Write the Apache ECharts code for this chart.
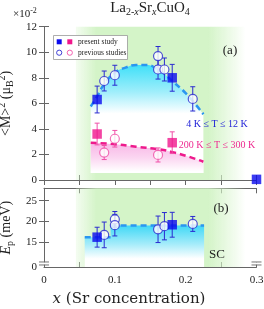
<!DOCTYPE html>
<html><head><meta charset="utf-8">
<script src="https://cdn.jsdelivr.net/npm/echarts@6/dist/echarts.min.js"></script>
<style>html,body{margin:0;padding:0;background:#fff}#c{width:264px;height:309px}</style>
</head><body><div id="c"></div>
<script>
// ---- Panel (a): <M>^2 (x10^-2 muB^2) ----
const lowPresentX = [0.075, 0.181];
const lowPresentY = [6.3, 8.0];
const lowPresentErr = [1.05, 1.05];
const lowPrevX = [0.085, 0.1, 0.161, 0.161, 0.17, 0.21];
const lowPrevY = [7.75, 8.2, 9.7, 8.65, 8.65, 6.35];
const lowPrevErr = [0.78, 0.78, 0.75, 0.75, 0.9, 0.95];
const highPresentX = [0.075, 0.181];
const highPresentY = [3.6, 2.92];
const highPresentErr = [0.85, 0.85];
const highPrevX = [0.085, 0.1, 0.161];
const highPrevY = [2.15, 3.23, 1.96];
const highPrevErr = [0.55, 0.65, 0.55];
const cornerPoint = [[0.3, 0.05]];
const lowCurveX = [0.066, 0.075, 0.085, 0.1, 0.115, 0.13, 0.145, 0.158, 0.17, 0.182, 0.2, 0.225];
const lowCurveY = [5.75, 6.55, 7.5, 8.4, 8.8, 9.0, 9.0, 8.75, 8.3, 7.7, 6.8, 5.15];
const highCurveX = [0.066, 0.1, 0.13, 0.163, 0.18, 0.2, 0.225];
const highCurveY = [2.92, 2.8, 2.6, 2.4, 2.2, 1.9, 1.43];
// ---- Panel (b): Ep (meV) ----
const epPresentX = [0.075, 0.181];
const epPresentY = [16.2, 19.2];
const epPresentErr = [2.4, 3.0];
const epPrevX = [0.085, 0.1, 0.1, 0.161, 0.17, 0.21];
const epPrevY = [16.75, 20.5, 19.1, 18.1, 18.85, 19.4];
const epPrevErr = [3.1, 1.9, 2.6, 3.2, 3.3, 1.8];
const epStepLowX = [0.0575, 0.094];
const epStepLowY = [16.2, 16.2];
const epStepHighX = [0.094, 0.226];
const epStepHighY = [19.0, 19.0];
// tick labels
const xTickLabels = ['0', '0.1', '0.2', '0.3'];
const yTicksA = [0, 2, 4, 6, 8, 10, 12];
const yLabelsB = [9, 15, 20, 25];
const yLabelsBText = ['0', '15', '20', '25'];

const SERIF = '"Liberation Serif","DejaVu Serif",serif';
const zip = (xs, ys) => xs.map((x, i) => [x, ys[i]]);
const zip3 = (xs, ys, es) => xs.map((x, i) => [x, ys[i], es[i]]);
const G = echarts.graphic.LinearGradient;

const chart = echarts.init(document.getElementById('c'), null, {renderer: 'canvas'});

const axisLine = {show: true, lineStyle: {color: '#666', width: 1}};
function xAx(grid, pos, labels) {
  return {type: 'value', gridIndex: grid, position: pos, min: 0, max: 0.3, interval: 0.05,
    axisLine: axisLine, splitLine: {show: false},
    axisTick: {show: true, inside: true, length: 5, lineStyle: {color: '#666'}},
    axisLabel: labels ? {show: true, margin: 8, fontFamily: SERIF, fontSize: 11, color: '#222',
      formatter: v => { const k = Math.round(v * 10); return Math.abs(v * 10 - k) < 1e-6 ? xTickLabels[k] : ''; }} : {show: false}
  };
}
function errRender(color) {
  return function (params, api) {
    const x = api.value(0), y = api.value(1), e = api.value(2);
    const t = api.coord([x, y + e]), b = api.coord([x, y - e]);
    const w = 2.5, s = {stroke: color, lineWidth: 1};
    return {type: 'group', children: [
      {type: 'line', shape: {x1: t[0], y1: t[1], x2: b[0], y2: b[1]}, style: s},
      {type: 'line', shape: {x1: t[0] - w, y1: t[1], x2: t[0] + w, y2: t[1]}, style: s},
      {type: 'line', shape: {x1: b[0] - w, y1: b[1], x2: b[0] + w, y2: b[1]}, style: s}
    ]};
  };
}
const greenArea = {silent: true, data: [[{xAxis: 0.045}, {xAxis: 0.285}]],
  itemStyle: {color: new G(0, 0, 1, 0, [
    {offset: 0, color: 'rgba(212,244,200,0.25)'}, {offset: 0.12, color: 'rgba(212,244,200,1)'},
    {offset: 0.78, color: 'rgba(212,244,200,1)'}, {offset: 1, color: 'rgba(212,244,200,0)'}])}};

const BLUE = '#0a0aee', BLUEL = '#2a2ad0', PINK = '#f0168c', PINKL = '#f050a8', DASHB = '#2a96f0', DASHP = '#ee1a8c';

const option = {
  animation: false,
  grid: [
    {left: 44, right: 7.5, top: 26.7, height: 153.3, containLabel: false, outerBoundsMode: 'none'},
    {left: 44, right: 7.5, top: 188.3, height: 78.7, containLabel: false, outerBoundsMode: 'none'}
  ],
  xAxis: [
    xAx(0, 'bottom', false), xAx(0, 'top', false),
    xAx(1, 'bottom', true),
    xAx(1, 'top', false)
  ],
  yAxis: [
    {type: 'value', gridIndex: 0, position: 'left', min: 0, max: 12, interval: 2,
      axisLine: axisLine, splitLine: {show: false},
      axisTick: {show: true, inside: true, length: 5, lineStyle: {color: '#666'}},
      axisLabel: {margin: 7, fontFamily: SERIF, fontSize: 11, color: '#222', customValues: yTicksA},
      name: '<M>{sup|2} (μ{sub|B}{sup|2})', nameLocation: 'middle', nameGap: 24,
      nameTextStyle: {fontFamily: SERIF, fontSize: 14, color: '#222', lineHeight: 18,
        rich: {sup: {fontSize: 10, verticalAlign: 'top', lineHeight: 18, fontFamily: SERIF, color: '#222'},
               sub: {fontSize: 10, verticalAlign: 'bottom', lineHeight: 18, fontFamily: SERIF, color: '#222'}}}},
    {type: 'value', gridIndex: 0, position: 'right', min: 0, max: 12, interval: 2,
      axisLine: axisLine, splitLine: {show: false}, axisLabel: {show: false},
      axisTick: {show: true, inside: true, length: 5, lineStyle: {color: '#666'}}},
    {type: 'value', gridIndex: 1, position: 'left', min: 9, max: 28,
      axisLine: axisLine, splitLine: {show: false},
      axisTick: {show: true, inside: true, length: 5, lineStyle: {color: '#666'}, customValues: [15, 20, 25]},
      axisLabel: {margin: 7, fontFamily: SERIF, fontSize: 11, color: '#222', customValues: yLabelsB,
        formatter: v => yLabelsBText[yLabelsB.indexOf(Math.round(v))] || ''},
      name: '{i|E}{sub|p} (meV)', nameLocation: 'middle', nameGap: 23,
      nameTextStyle: {fontFamily: SERIF, fontSize: 14, color: '#222', lineHeight: 18,
        rich: {i: {fontStyle: 'italic', fontFamily: SERIF, fontSize: 14, lineHeight: 18, color: '#222'},
               sub: {fontSize: 10, verticalAlign: 'bottom', lineHeight: 18, fontFamily: SERIF, color: '#222'}}}},
    {type: 'value', gridIndex: 1, position: 'right', min: 9, max: 28,
      axisLine: axisLine, splitLine: {show: false}, axisLabel: {show: false},
      axisTick: {show: true, inside: true, length: 5, lineStyle: {color: '#666'}, customValues: [15, 20, 25]}}
  ],
  series: [
    // panel a
    {type: 'line', xAxisIndex: 0, yAxisIndex: 0, data: [[0.045, -5]], symbol: 'none', lineStyle: {opacity: 0}, z: 0, markArea: greenArea},
    {type: 'line', xAxisIndex: 0, yAxisIndex: 0, data: zip(lowCurveX, lowCurveY), smooth: true, symbol: 'none', z: 2,
      lineStyle: {color: DASHB, width: 2.5, type: [6, 4]},
      areaStyle: {origin: 0.55, opacity: 1, color: new G(0, 0, 0, 1, [
        {offset: 0, color: '#40e0f8'}, {offset: 0.25, color: '#a0eefb'}, {offset: 0.45, color: '#ffffff'}, {offset: 1, color: '#ffffff'}])}},
    {type: 'line', xAxisIndex: 0, yAxisIndex: 0, data: zip(highCurveX, highCurveY), smooth: true, symbol: 'none', z: 3,
      lineStyle: {color: DASHP, width: 2.5, type: [6, 4]},
      areaStyle: {origin: 0.55, opacity: 1, color: new G(0, 0, 0, 1, [
        {offset: 0, color: '#f8b6e6'}, {offset: 0.5, color: '#fbd6f1'}, {offset: 0.95, color: '#ffffff'}])}},
    {type: 'custom', xAxisIndex: 0, yAxisIndex: 0, renderItem: errRender(BLUEL), data: zip3(lowPresentX.concat(lowPrevX), lowPresentY.concat(lowPrevY), lowPresentErr.concat(lowPrevErr)), encode: {x: 0, y: 1}, z: 4},
    {type: 'custom', xAxisIndex: 0, yAxisIndex: 0, renderItem: errRender(PINKL), data: zip3(highPresentX.concat(highPrevX), highPresentY.concat(highPrevY), highPresentErr.concat(highPrevErr)), encode: {x: 0, y: 1}, z: 4},
    {type: 'scatter', xAxisIndex: 0, yAxisIndex: 0, data: zip(lowPrevX, lowPrevY), symbol: 'circle', symbolSize: 9, z: 5,
      itemStyle: {color: '#fff', borderColor: BLUEL, borderWidth: 1.2}},
    {type: 'scatter', xAxisIndex: 0, yAxisIndex: 0, data: zip(highPrevX, highPrevY), symbol: 'circle', symbolSize: 9, z: 5,
      itemStyle: {color: '#fff', borderColor: PINKL, borderWidth: 1.2}},
    {type: 'scatter', xAxisIndex: 0, yAxisIndex: 0, data: zip(lowPresentX, lowPresentY).concat(cornerPoint), symbol: 'rect', symbolSize: 9.5, z: 6, clip: false,
      itemStyle: {color: BLUE}},
    {type: 'scatter', xAxisIndex: 0, yAxisIndex: 0, data: zip(highPresentX, highPresentY), symbol: 'rect', symbolSize: 9.5, z: 6,
      itemStyle: {color: PINK}},
    // panel b
    {type: 'line', xAxisIndex: 2, yAxisIndex: 2, data: [[0.045, 0]], symbol: 'none', lineStyle: {opacity: 0}, z: 0, markArea: greenArea},
    {type: 'line', xAxisIndex: 2, yAxisIndex: 2, data: zip(epStepLowX, epStepLowY).concat(zip(epStepHighX, epStepHighY)), symbol: 'none', z: 2,
      lineStyle: {width: 0, opacity: 0},
      areaStyle: {opacity: 1, color: new G(0, 0, 0, 1, [
        {offset: 0, color: '#40d8f6'}, {offset: 0.45, color: '#a6ecfa'}, {offset: 0.8, color: '#ffffff'}, {offset: 1, color: '#ffffff'}])}},
    {type: 'line', xAxisIndex: 2, yAxisIndex: 2, data: zip(epStepLowX, epStepLowY), symbol: 'none', z: 3,
      lineStyle: {color: DASHB, width: 2.5, type: [6, 4]}},
    {type: 'line', xAxisIndex: 2, yAxisIndex: 2, data: zip(epStepHighX, epStepHighY), symbol: 'none', z: 3,
      lineStyle: {color: DASHB, width: 2.5, type: [6, 4]}},
    {type: 'custom', xAxisIndex: 2, yAxisIndex: 2, renderItem: errRender(BLUEL), data: zip3(epPresentX.concat(epPrevX), epPresentY.concat(epPrevY), epPresentErr.concat(epPrevErr)), encode: {x: 0, y: 1}, z: 4},
    {type: 'scatter', xAxisIndex: 2, yAxisIndex: 2, data: zip(epPrevX, epPrevY), symbol: 'circle', symbolSize: 9, z: 5,
      itemStyle: {color: '#fff', borderColor: BLUEL, borderWidth: 1.2}},
    {type: 'scatter', xAxisIndex: 2, yAxisIndex: 2, data: zip(epPresentX, epPresentY), symbol: 'rect', symbolSize: 9.5, z: 6,
      itemStyle: {color: BLUE}}
  ],
  graphic: [
    {type: 'text', x: 150, y: 8, style: {text: 'La{s|2-}{si|x}Sr{si|x}CuO{s|4}',
      fontFamily: SERIF, fontSize: 15, fill: '#222', textAlign: 'center', textVerticalAlign: 'middle',
      rich: {s: {fontSize: 10, verticalAlign: 'bottom', lineHeight: 18, fontFamily: SERIF, fill: '#222'},
             si: {fontSize: 10, fontStyle: 'italic', verticalAlign: 'bottom', lineHeight: 18, fontFamily: SERIF, fill: '#222'}}}},
    {type: 'text', x: 13, y: 14, style: {text: '×10{sup|-2}', fontFamily: SERIF, fontSize: 11, fill: '#222', textVerticalAlign: 'middle',
      rich: {sup: {fontSize: 8, verticalAlign: 'top', lineHeight: 14, fontFamily: SERIF, fill: '#222'}}}},
    {type: 'text', x: 129, y: 299, style: {text: '{i|x} (Sr concentration)', fontFamily: '"DejaVu Serif",serif', fontSize: 15, fill: '#222', textAlign: 'center', textVerticalAlign: 'middle',
      rich: {i: {fontStyle: 'italic', fontFamily: '"DejaVu Serif",serif', fontSize: 15, fill: '#222'}}}},
    // legend box
    {type: 'rect', shape: {x: 53.5, y: 35.5, width: 74, height: 24}, style: {fill: '#fff', stroke: '#999', lineWidth: 0.8}, z: 20},
    {type: 'rect', shape: {x: 56.7, y: 39.3, width: 5, height: 5}, style: {fill: BLUE}, z: 21},
    {type: 'rect', shape: {x: 67.3, y: 39.3, width: 5, height: 5}, style: {fill: PINK}, z: 21},
    {type: 'circle', shape: {cx: 59.2, cy: 52.7, r: 2.6}, style: {fill: '#fff', stroke: BLUEL, lineWidth: 0.9}, z: 21},
    {type: 'circle', shape: {cx: 69.8, cy: 52.7, r: 2.6}, style: {fill: '#fff', stroke: PINKL, lineWidth: 0.9}, z: 21},
    {type: 'text', x: 78, y: 41.8, z: 21, style: {text: 'present study', fontFamily: SERIF, fontSize: 7.5, fill: '#222', textVerticalAlign: 'middle'}},
    {type: 'text', x: 78, y: 52.8, z: 21, style: {text: 'previous studies', fontFamily: SERIF, fontSize: 7.5, fill: '#222', textVerticalAlign: 'middle'}},
    {type: 'text', x: 230, y: 51, z: 21, style: {text: '(a)', fontFamily: SERIF, fontSize: 13, fill: '#222', textAlign: 'center', textVerticalAlign: 'middle'}},
    {type: 'text', x: 221, y: 209, z: 21, style: {text: '(b)', fontFamily: SERIF, fontSize: 13, fill: '#222', textAlign: 'center', textVerticalAlign: 'middle'}},
    {type: 'text', x: 217, y: 254.5, z: 21, style: {text: 'SC', fontFamily: SERIF, fontSize: 13, fill: '#222', textAlign: 'center', textVerticalAlign: 'middle'}},
    {type: 'text', x: 217, y: 124, z: 21, style: {text: '4 K ≤ T ≤ 12 K', fontFamily: SERIF, fontSize: 10, fill: '#2222d8', textAlign: 'center', textVerticalAlign: 'middle'}},
    {type: 'text', x: 217, y: 145, z: 21, style: {text: '200 K ≤ T ≤ 300 K', fontFamily: SERIF, fontSize: 10, fill: '#ee2a90', textAlign: 'center', textVerticalAlign: 'middle'}}
  ]
};
chart.setOption(option);

// axis break marks on panel (b) y-axis
const pL = chart.convertToPixel({xAxisIndex: 2, yAxisIndex: 2}, [0, 9.85]);
const pR = chart.convertToPixel({xAxisIndex: 2, yAxisIndex: 2}, [0.3, 9.85]);
function brk(cx, cy) {
  return [
    {type: 'rect', shape: {x: cx - 5, y: cy - 1.2, width: 10, height: 2.4}, style: {fill: '#fff'}, z: 30},
    {type: 'line', shape: {x1: cx - 5, y1: cy - 1.5, x2: cx + 5, y2: cy - 1.5}, style: {stroke: '#666', lineWidth: 0.9}, z: 31},
    {type: 'line', shape: {x1: cx - 5, y1: cy + 1.5, x2: cx + 5, y2: cy + 1.5}, style: {stroke: '#666', lineWidth: 0.9}, z: 31}
  ];
}
chart.setOption({graphic: option.graphic.concat(brk(pL[0], pL[1]), brk(pR[0], pR[1]))}, {replaceMerge: ['graphic']});
</script></body></html>
